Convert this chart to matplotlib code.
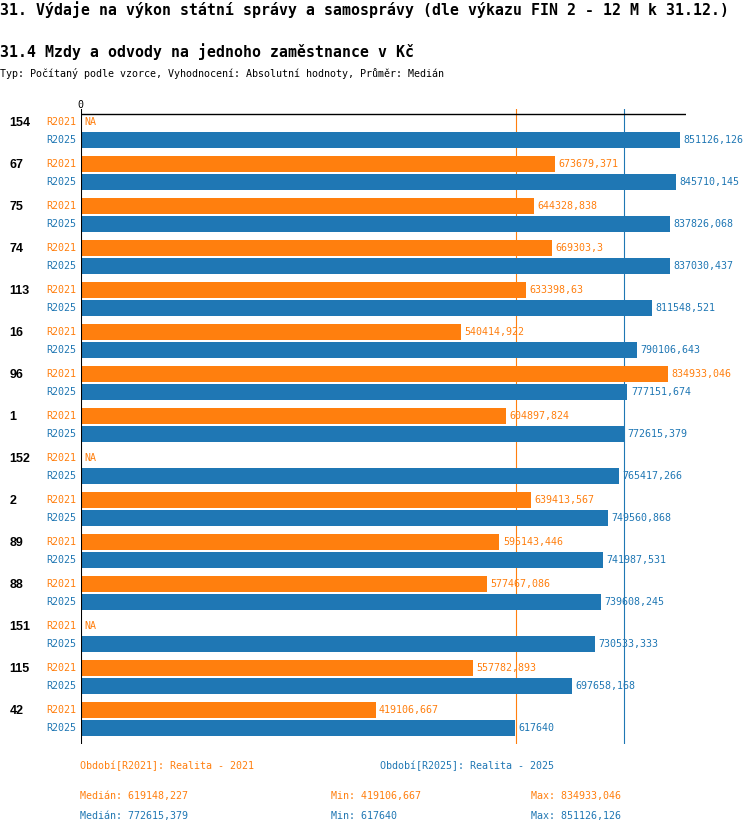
import numpy as np
import matplotlib
matplotlib.use('Agg')
import matplotlib.pyplot as plt
import matplotlib.transforms as mtransforms

# data
categories = ['154', '67', '75', '74', '113', '16', '96', '1', '152', '2', '89', '88', '151', '115', '42']
r2021 = [np.nan, 673679.371, 644328.838, 669303.3, 633398.63, 540414.922, 834933.046, 604897.824,
         np.nan, 639413.567, 595143.446, 577467.086, np.nan, 557782.893, 419106.667]
r2025 = [851126.126, 845710.145, 837826.068, 837030.437, 811548.521, 790106.643, 777151.674, 772615.379,
         765417.266, 749560.868, 741987.531, 739608.245, 730533.333, 697658.168, 617640]
series_names = ['R2021', 'R2025']
series_desc = ['Období[R2021]: Realita - 2021', 'Období[R2025]: Realita - 2025']

title = '31. Výdaje na výkon státní správy a samosprávy (dle výkazu FIN 2 - 12 M k 31.12.)'
subtitle = '31.4 Mzdy a odvody na jednoho zaměstnance v Kč'
type_line = 'Typ: Počítaný podle vzorce, Vyhodnocení: Absolutní hodnoty, Průměr: Medián'

ORANGE = '#ff7f0e'
BLUE = '#1f77b4'
MONO = 'DejaVu Sans Mono'
W, H = 750, 834


def fmt(v):
    # czech style decimal comma, no trailing zeros
    return f'{v:.3f}'.rstrip('0').rstrip('.').replace('.', ',')


def fy(px):
    # pixel row (from top) -> figure fraction
    return 1 - px / H


fig = plt.figure(figsize=(W / 100, H / 100), dpi=100)
ax = fig.add_axes([80.6 / W, fy(744), (686 - 80.6) / W, (744 - 109) / H])

idx = np.arange(len(categories))
off = 0.214
bh = 0.38
vals21 = np.array(r2021)
vals25 = np.array(r2025)

ax.barh(idx - off, np.nan_to_num(vals21), height=bh, color=ORANGE, zorder=2)
ax.barh(idx + off, vals25, height=bh, color=BLUE, zorder=2)

ax.set_xlim(0, 860300)
ax.set_ylim(len(categories) - 1 + 0.602, -0.517)
ax.axis('off')

# median lines behind the bars
med21 = np.nanmedian(vals21)
med25 = np.nanmedian(vals25)
ax.axvline(med21, color=ORANGE, lw=0.8, zorder=1)
ax.axvline(med25, color=BLUE, lw=0.8, zorder=1)

# zero axis and the top line
ax.axvline(0, color='black', lw=1.5, zorder=5)
ax.axhline(-0.39, color='black', lw=1.0, zorder=5)
ax.text(0, -0.39, '0', fontsize=7.2, family=MONO, ha='center', va='bottom',
        transform=ax.transData + mtransforms.ScaledTranslation(0, 3 / 72, fig.dpi_scale_trans))

lab_tr = mtransforms.blended_transform_factory(fig.transFigure, ax.transData)
for i, cat in enumerate(categories):
    y21 = i - off
    y25 = i + off
    ax.text(9.5 / W, y21 + 0.03, cat, transform=lab_tr, fontsize=9, fontweight='bold',
            family='Liberation Sans', ha='left', va='center')
    ax.annotate(series_names[0], (0, y21), xytext=(-3, 0), textcoords='offset points',
                ha='right', va='center', fontsize=7.2, family=MONO, color=ORANGE)
    ax.annotate(series_names[1], (0, y25), xytext=(-3, 0), textcoords='offset points',
                ha='right', va='center', fontsize=7.2, family=MONO, color=BLUE)
    # value labels
    if np.isnan(vals21[i]):
        ax.annotate('NA', (0, y21), xytext=(2.5, 0), textcoords='offset points',
                    ha='left', va='center', fontsize=7.2, family=MONO, color=ORANGE)
    else:
        ax.annotate(fmt(vals21[i]), (vals21[i], y21), xytext=(2.5, 0), textcoords='offset points',
                    ha='left', va='center', fontsize=7.2, family=MONO, color=ORANGE)
    ax.annotate(fmt(vals25[i]), (vals25[i], y25), xytext=(2.5, 0), textcoords='offset points',
                ha='left', va='center', fontsize=7.2, family=MONO, color=BLUE)

# headers
fig.text(0.5 / W, fy(14.5), title, fontsize=10.7, fontweight='bold', family=MONO, va='baseline')
fig.text(0.5 / W, fy(57), subtitle, fontsize=10.7, fontweight='bold', family=MONO, va='baseline')
fig.text(0.5 / W, fy(77), type_line, fontsize=7.2, family=MONO, va='baseline')

# footer with legend and stats
fig.text(80 / W, fy(766), series_desc[0], fontsize=7.2, family=MONO, color=ORANGE, va='center')
fig.text(380 / W, fy(766), series_desc[1], fontsize=7.2, family=MONO, color=BLUE, va='center')
for vals, col, ypx in [(vals21, ORANGE, 796.5), (vals25, BLUE, 816)]:
    fig.text(80 / W, fy(ypx), 'Medián: ' + fmt(np.nanmedian(vals)), fontsize=7.2, family=MONO, color=col, va='center')
    fig.text(331 / W, fy(ypx), 'Min: ' + fmt(np.nanmin(vals)), fontsize=7.2, family=MONO, color=col, va='center')
    fig.text(531 / W, fy(ypx), 'Max: ' + fmt(np.nanmax(vals)), fontsize=7.2, family=MONO, color=col, va='center')

plt.savefig('out.png', dpi=100)
